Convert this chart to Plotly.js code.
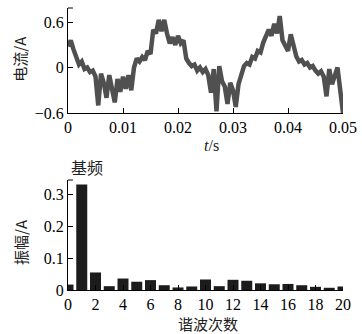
<!DOCTYPE html>
<html>
<head>
<meta charset="utf-8">
<script src="https://cdn.plot.ly/plotly-3.0.1.min.js"></script>
<style>html,body{margin:0;padding:0;background:#fff;}#chart{width:362px;height:334px;}</style>
</head>
<body>
<div id="chart"></div>
<script>
var tStep = 0.0005;
var currentA = [
  0.28, 0.36, 0.24, 0.14, 0.04, 0.08, -0.02, 0.00, -0.06, -0.04,
  -0.12, -0.50, -0.08, -0.20, -0.40, -0.10, -0.25, -0.46, -0.15, -0.32,
  -0.12, -0.28, -0.10, -0.30, 0.00, 0.12, 0.08, 0.14, 0.10, 0.22,
  0.18, 0.50, 0.45, 0.63, 0.48, 0.63, 0.45, 0.32, 0.40, 0.30,
  0.42, 0.32, 0.36, 0.12, 0.06, 0.02, 0.04, -0.04, 0.00, -0.06,
  -0.02, -0.10, -0.33, -0.02, -0.58, 0.02, -0.18, -0.25, -0.48, -0.20,
  -0.30, -0.52, -0.22, -0.10, 0.02, 0.06, 0.04, 0.14, 0.12, 0.22,
  0.20, 0.33, 0.40, 0.50, 0.42, 0.58, 0.45, 0.68, 0.36, 0.28,
  0.22, 0.44, 0.30, 0.15, 0.08, 0.10, 0.04, 0.06, 0.00, 0.02,
  -0.04, -0.08, -0.05, -0.12, -0.38, -0.02, -0.22, -0.12, 0.00, -0.30,
  -0.60
];
var timeS = currentA.map(function(_, i){ return +(i * tStep).toFixed(4); });

// Harmonic spectrum
var harmonicOrder = [0,1,2,3,4,5,6,7,8,9,10,11,12,13,14,15,16,17,18,19,20];
var amplitudeA = [0.017,0.331,0.055,0.012,0.036,0.026,0.031,0.015,0.008,0.011,0.033,0.012,0.032,0.029,0.021,0.018,0.019,0.015,0.010,0.007,0.011];

var topXTicks = [0, 0.01, 0.02, 0.03, 0.04, 0.05];
var topXLabels = ["0", "0.01", "0.02", "0.03", "0.04", "0.05"];
var topYTicks = [-0.6, 0, 0.6];
var topYLabels = ["\u22120.6", "0", "0.6"];
var botXTicks = [0,2,4,6,8,10,12,14,16,18,20];
var botYTicks = [0, 0.1, 0.2, 0.3];
var botYLabels = ["0", "0.1", "0.2", "0.3"];

var serif = "Liberation Serif";
var cjk = "Noto Sans CJK SC";

var traces = [
  {x: timeS, y: currentA, type: "scatter", mode: "lines",
   line: {color: "#505050", width: 4.5, shape: "linear"}, xaxis: "x", yaxis: "y", hoverinfo: "skip"},
  {x: harmonicOrder, y: amplitudeA, type: "bar", width: 0.8,
   marker: {color: "#1c1c1c"}, xaxis: "x2", yaxis: "y2", hoverinfo: "skip"}
];

var axBase = {showline: true, linecolor: "#000", linewidth: 1, ticks: "inside",
  ticklen: 5, tickcolor: "#000", showgrid: false, zeroline: false,
  tickfont: {family: serif, size: 16, color: "#000"}, mirror: false};

var layout = {
  width: 362, height: 334,
  margin: {l: 68, r: 19, t: 8, b: 44},
  paper_bgcolor: "#fff", plot_bgcolor: "#fff",
  showlegend: false,
  font: {family: serif},
  xaxis: Object.assign({}, axBase, {domain: [0, 1], anchor: "y", range: [0, 0.05],
    tickmode: "array", tickvals: topXTicks, ticktext: topXLabels}),
  yaxis: Object.assign({}, axBase, {domain: [0.6277, 1], anchor: "x", range: [-0.6, 0.787],
    tickmode: "array", tickvals: topYTicks, ticktext: topYLabels}),
  xaxis2: Object.assign({}, axBase, {domain: [0, 1], anchor: "y2", range: [0, 20],
    tickmode: "array", tickvals: botXTicks, ticktext: botXTicks.map(String)}),
  yaxis2: Object.assign({}, axBase, {domain: [0, 0.39], anchor: "x2", range: [0, 0.345],
    tickmode: "array", tickvals: botYTicks, ticktext: botYLabels}),
  shapes: [
    {type: "line", xref: "x domain", yref: "y domain", x0: 0, x1: 0.018, y0: 1, y1: 1,
     line: {color: "#000", width: 1}},
    {type: "line", xref: "x2 domain", yref: "y2 domain", x0: 0, x1: 0.018, y0: 1, y1: 1,
     line: {color: "#000", width: 1}}
  ],
  annotations: [
    {text: "电流/A", xref: "paper", yref: "paper", x: -0.175, y: 0.82, showarrow: false,
     textangle: -90, font: {family: cjk, size: 15, color: "#222"}, xanchor: "center", yanchor: "middle"},
    {text: "<i>t</i>/s", xref: "paper", yref: "paper", x: 0.52, y: 0.512, showarrow: false,
     font: {family: serif, size: 16, color: "#222"}, xanchor: "center", yanchor: "middle"},
    {text: "振幅/A", xref: "paper", yref: "paper", x: -0.175, y: 0.17, showarrow: false,
     textangle: -90, font: {family: cjk, size: 15, color: "#222"}, xanchor: "center", yanchor: "middle"},
    {text: "谐波次数", xref: "paper", yref: "paper", x: 0.51, y: -0.12, showarrow: false,
     font: {family: cjk, size: 15, color: "#222"}, xanchor: "center", yanchor: "middle"},
    {text: "基频", xref: "paper", yref: "paper", x: 0.07, y: 0.436, showarrow: false,
     font: {family: cjk, size: 16, color: "#222"}, xanchor: "center", yanchor: "middle"}
  ]
};

Plotly.newPlot("chart", traces, layout, {staticPlot: true, displayModeBar: false});
</script>
</body>
</html>
